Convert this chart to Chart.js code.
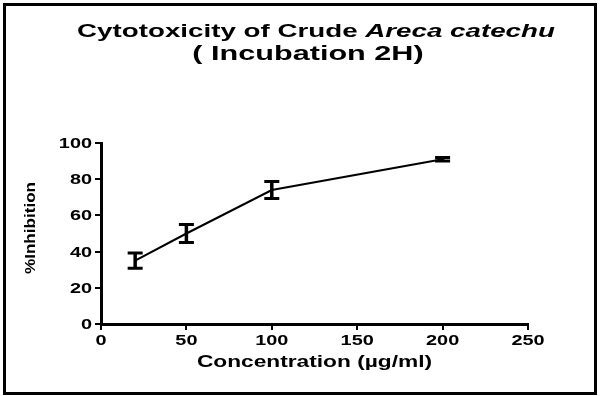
<!DOCTYPE html>
<html>
<head>
<meta charset="utf-8">
<script src="https://cdn.jsdelivr.net/npm/chart.js@4.4.1/dist/chart.umd.min.js"></script>
<style>
    html, body { margin: 0; padding: 0; background: #ffffff; }
    #quadro { position: relative; width: 600px; height: 396px; }
    #quadro canvas { position: absolute; left: 0; top: 0; }
    #moldura {
        position: absolute; left: 3px; top: 3px; width: 594px; height: 392px;
        box-sizing: border-box; border: 3px solid #000; pointer-events: none;
    }
</style>
</head>
<body>
<div id="quadro">
    <canvas id="graficoCitotoxicidade" width="600" height="396"></canvas>
    <div id="moldura"></div>
</div>
<script>
// DADOS DO GRÁFICO
const concentracoes = [20, 50, 100, 200];
const inibicaoMedia = [35, 50, 74, 91];
const inibicaoErro = [4.2, 5, 4.7, 1];

// MARCAS DOS EIXOS
const ticksX = [0, 50, 100, 150, 200, 250];
const ticksY = [0, 20, 40, 60, 80, 100];

// TEXTOS
const tituloLinha1 = ["Cytotoxicity of Crude ", "Areca catechu"];
const tituloLinha2 = "( Incubation 2H)";
const tituloEixoX = "Concentration (µg/ml)";
const tituloEixoY = "%Inhibition";

// Fonte e esticamento horizontal do texto (a figura original é larga)
const FONTE = "'Liberation Sans', Arial, sans-serif";
const ESTICAR = 1.42;


// ESCREVE TEXTO ESTICADO (aceita partes com fontes diferentes)
function escreverTexto(ctx, partes, x, y, alinhamento, esticar) {

    let largura = 0;
    partes.forEach((p) => {
        ctx.font = p.fonte;
        largura += ctx.measureText(p.texto).width;
    });

    ctx.save();
    ctx.translate(x, y);
    ctx.scale(esticar, 1);
    ctx.textAlign = "left";
    ctx.textBaseline = "alphabetic";

    let inicio = 0;
    if (alinhamento === "center") inicio = -largura / 2;
    if (alinhamento === "right") inicio = -largura;

    partes.forEach((p) => {
        ctx.font = p.fonte;
        ctx.fillText(p.texto, inicio, 0);
        inicio += ctx.measureText(p.texto).width;
    });

    ctx.restore();
}


// PLUGIN DAS BARRAS DE ERRO
const barrasErroPlugin = {
    id: "barrasErro",

    afterDatasetsDraw(chart) {
        const ctx = chart.ctx;
        const ex = chart.scales.x;
        const ey = chart.scales.y;

        ctx.save();
        ctx.strokeStyle = "#000";

        concentracoes.forEach((c, i) => {
            const px = ex.getPixelForValue(c);
            const topo = ey.getPixelForValue(inibicaoMedia[i] + inibicaoErro[i]);
            const base = ey.getPixelForValue(inibicaoMedia[i] - inibicaoErro[i]);

            // Haste
            ctx.lineWidth = 3.5;
            ctx.beginPath();
            ctx.moveTo(px, topo);
            ctx.lineTo(px, base);
            ctx.stroke();

            // Tampas
            ctx.lineWidth = 3;
            ctx.beginPath();
            ctx.moveTo(px - 7.5, topo);
            ctx.lineTo(px + 7.5, topo);
            ctx.moveTo(px - 7.5, base);
            ctx.lineTo(px + 7.5, base);
            ctx.stroke();
        });

        ctx.restore();
    },
};


// PLUGIN DOS TEXTOS (títulos e rótulos)
const textosPlugin = {
    id: "textos",

    afterDraw(chart) {
        const ctx = chart.ctx;
        const ex = chart.scales.x;
        const ey = chart.scales.y;
        const negrito = "bold 14px " + FONTE;

        ctx.save();
        ctx.fillStyle = "#000";

        // Título
        escreverTexto(ctx, [
            { texto: tituloLinha1[0], fonte: "bold 19px " + FONTE },
            { texto: tituloLinha1[1], fonte: "italic bold 19px " + FONTE },
        ], 316, 37, "center", 1.46);

        escreverTexto(ctx, [
            { texto: tituloLinha2, fonte: "bold 19.5px " + FONTE },
        ], 308, 60, "center", 1.57);

        // Rótulos do eixo Y
        ey.ticks.forEach((t) => {
            escreverTexto(ctx, [{ texto: String(t.value), fonte: negrito }],
                ey.right - 9, ey.getPixelForValue(t.value) + 5, "right", ESTICAR);
        });

        // Rótulos do eixo X
        ex.ticks.forEach((t) => {
            escreverTexto(ctx, [{ texto: String(t.value), fonte: negrito }],
                ex.getPixelForValue(t.value), ex.top + 21, "center", ESTICAR);
        });

        // Título do eixo X
        escreverTexto(ctx, [{ texto: tituloEixoX, fonte: "bold 16px " + FONTE }],
            (chart.chartArea.left + chart.chartArea.right) / 2, 367, "center", ESTICAR);

        // Título do eixo Y (girado)
        ctx.save();
        ctx.translate(35, 228);
        ctx.rotate(-Math.PI / 2);
        escreverTexto(ctx, [{ texto: tituloEixoY, fonte: "bold 14px " + FONTE }],
            0, 0, "center", 1.22);
        ctx.restore();

        ctx.restore();
    },
};


// EIXO COMUM
function eixo(min, max, marcas) {
    return {
        type: "linear",
        min: min,
        max: max,
        afterBuildTicks: (escala) => {
            escala.ticks = marcas.map((v) => ({ value: v }));
        },
        ticks: { display: false },
        grid: {
            display: true,
            drawOnChartArea: false,
            drawTicks: true,
            tickLength: 6,
            color: "#000",
            lineWidth: 2,
        },
        border: { display: true, color: "#000", width: 3 },
    };
}


// CRIA GRÁFICO
function criarGrafico() {

    const canvas = document.getElementById("graficoCitotoxicidade");

    new Chart(canvas, {
        type: "line",

        data: {
            datasets: [{
                label: "% Inhibition",
                data: concentracoes.map((c, i) => ({ x: c, y: inibicaoMedia[i] })),
                borderColor: "#000",
                borderWidth: 2,
                pointRadius: 0,
                tension: 0,
                fill: false,
            }],
        },

        options: {
            responsive: false,
            animation: false,
            layout: {
                padding: { left: 95, right: 72, top: 143, bottom: 66 },
            },
            plugins: {
                legend: { display: false },
                tooltip: { enabled: false },
            },
            scales: {
                x: eixo(0, 250, ticksX),
                y: eixo(0, 100, ticksY),
            },
        },

        plugins: [barrasErroPlugin, textosPlugin],
    });
}

criarGrafico();
</script>
</body>
</html>
